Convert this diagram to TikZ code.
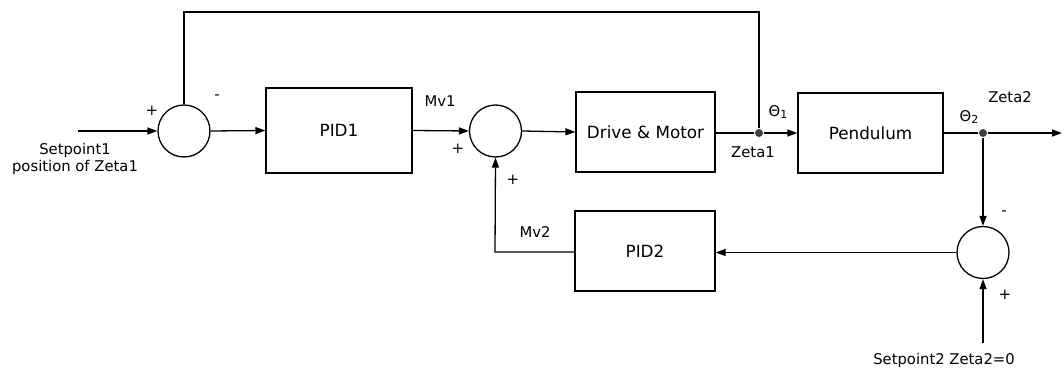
\documentclass[tikz,border=0pt]{standalone}
\usepackage{fontspec}
\setmainfont{DejaVu Sans}
\usetikzlibrary{arrows.meta}
\begin{document}
\begin{tikzpicture}[x=1pt,y=-1pt,
  line width=1.3pt,
  blk/.style={draw, minimum width=#1, inner sep=0pt, font=\fontsize{16.8}{19}\selectfont},
  sumc/.style={draw, circle, minimum size=52pt, inner sep=0pt},
  lbl/.style={font=\fontsize{14.8}{17.5}\selectfont, inner sep=0pt},
  sgn/.style={font=\fontsize{15}{17}\selectfont, inner sep=0pt},
  arr/.style={-{Triangle[length=10pt,width=7pt]}},
  dot/.style={circle, fill=black!75, minimum size=8pt, inner sep=0pt}]
\useasboundingbox (0,0) rectangle (1064,371);
% blocks
\node[blk=146pt, minimum height=85pt] (pid1) at (339,130.5) {PID1};
\node[blk=139pt, minimum height=80pt] (drive) at (645.5,132) {Drive \& Motor};
\node[blk=145pt, minimum height=80pt] (pend) at (870.5,133) {Pendulum};
\node[blk=140pt, minimum height=80pt] (pid2) at (645,251) {PID2};
% summing junctions
\node[sumc] (s1) at (184,131) {};
\node[sumc] (s2) at (495.5,131) {};
\node[sumc] (s3) at (983,252.5) {};
% branch points
\node[dot] (j1) at (759,133) {};
\node[dot] (j2) at (983,133) {};
\coordinate (in1) at (78,131);
\coordinate (out) at (1062,133);
\coordinate (in3) at (983,343);
\coordinate (top) at (184,12);
\coordinate (corner) at (495,252);
% connectors
\draw[arr] (in1) -- (s1.west);
\draw[arr] (s1.east) -- (pid1.west);
\draw[arr] (pid1.east) -- (s2.west);
\draw[arr] (s2.east) -- (drive.west);
\draw (drive.east |- j1) -- (j1);
\draw[arr] (j1) -- (pend.west |- j1);
\draw (pend.east |- j2) -- (j2);
\draw[arr] (j2) -- (out);
\draw (j1) |- (top) -- (s1.north);
\draw[arr] (j2) -- (s3.north);
\draw[arr] (in3) -- (s3.south);
\draw[arr] (s3.west) -- (pid2.east |- s3.west);
\draw[arr] (pid2.west |- corner) -- (corner) -- (s2.south);
% labels
\node[lbl, align=center] at (75,159) {Setpoint1\\position of Zeta1};
\node[sgn] at (152,111) {+};
\node[sgn] at (217,97) {-};
\node[lbl] at (440,101) {Mv1};
\node[sgn] at (458,149) {+};
\node[sgn] at (513,180) {+};
\node[lbl] at (778,112) {Θ\raisebox{-0.35ex}{\fontsize{11}{12}\selectfont 1}};
\node[lbl] at (753,152) {Zeta1};
\node[lbl] at (969,117) {Θ\raisebox{-0.35ex}{\fontsize{11}{12}\selectfont 2}};
\node[lbl] at (1010,97) {Zeta2};
\node[sgn] at (1004,213) {-};
\node[sgn] at (1005,295) {+};
\node[lbl] at (535,232) {Mv2};
\node[lbl] at (944,360) {Setpoint2 Zeta2=0};
\end{tikzpicture}
\end{document}
